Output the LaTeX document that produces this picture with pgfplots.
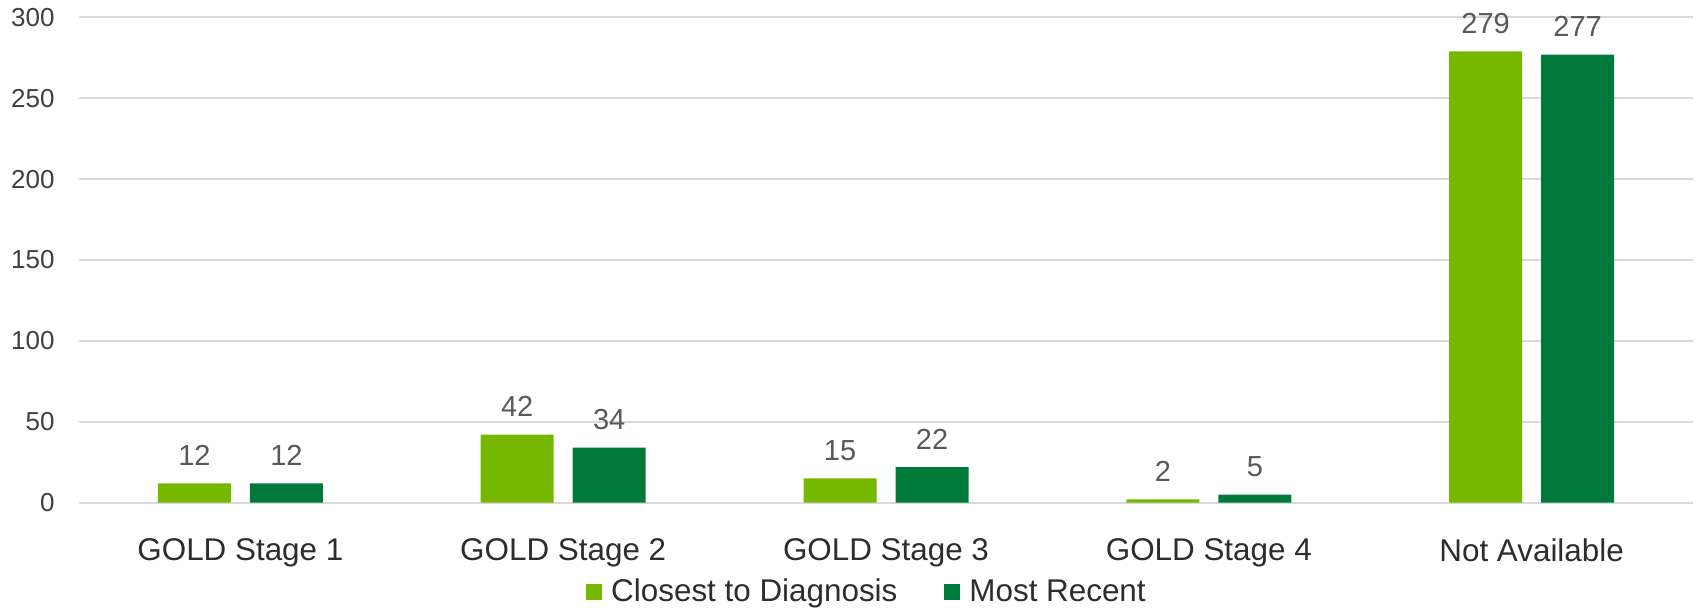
\documentclass[border=0pt]{standalone}
\usepackage{fontspec}
\setmainfont{Liberation Sans}
\usepackage{pgfplots}
\pgfplotsset{compat=1.18}

\definecolor{lightgreen}{RGB}{118,184,0}
\definecolor{darkgreen}{RGB}{0,122,58}
\definecolor{gridgray}{RGB}{217,217,217}
\definecolor{ticktext}{RGB}{64,64,64}
\definecolor{labeltext}{RGB}{89,89,89}
\definecolor{cattext}{RGB}{45,45,45}

\begin{document}
\begin{tikzpicture}
\begin{axis}[
  at={(0pt,0pt)}, anchor=south west,
  scale only axis,
  width=807pt, height=242.7pt,
  xmin=-0.5, xmax=4.5,
  ymin=0, ymax=300,
  ytick={0,50,100,150,200,250,300},
  xtick={0,1,2,3,4},
  xticklabels={GOLD Stage 1,GOLD Stage 2,GOLD Stage 3,GOLD Stage 4,Not Available},
  /pgf/number format/assume math mode=true,
  ymajorgrids,
  major grid style={draw=gridgray, line width=0.9pt},
  axis line style={draw=none},
  major tick style={draw=none},
  yticklabel style={anchor=east, inner sep=0pt, xshift=-12pt,
    font=\fontsize{13}{15}\selectfont, text=ticktext},
  xticklabel style={anchor=north, inner sep=0pt, yshift=-13.5pt,
    font=\fontsize{15.7}{18}\selectfont, text=cattext},
  ybar=9.5pt,
  bar width=36.5pt,
  nodes near coords,
  every node near coord/.append style={anchor=south, inner sep=0pt, yshift=8.75pt,
    font=\fontsize{14.5}{17}\selectfont, text=labeltext,
    /pgf/number format/assume math mode=true},
  legend columns=2,
  legend image code/.code={\fill[#1] (0pt,-4pt) rectangle (8pt,4pt);},
  legend style={
    at={(0.4876,-0.1836)}, anchor=center,
    draw=none, fill=none, inner sep=0pt,
    font=\fontsize{15.7}{18}\selectfont, text=cattext,
    nodes={inner sep=0pt, anchor=west},
    /tikz/every odd column/.append style={column sep=4.5pt},
    /tikz/every even column/.append style={column sep=23.5pt},
  },
]
\addplot[fill=lightgreen, draw=none] coordinates {(0,12) (1,42) (2,15) (3,2) (4,279)};
\addlegendentry{Closest to Diagnosis}
\addplot[fill=darkgreen, draw=none] coordinates {(0,12) (1,34) (2,22) (3,5) (4,277)};
\addlegendentry{Most Recent}
\end{axis}
\pgfresetboundingbox
\path[use as bounding box] (-39.5pt,-52.65pt) rectangle (810.5pt,251.35pt);
\end{tikzpicture}
\end{document}
